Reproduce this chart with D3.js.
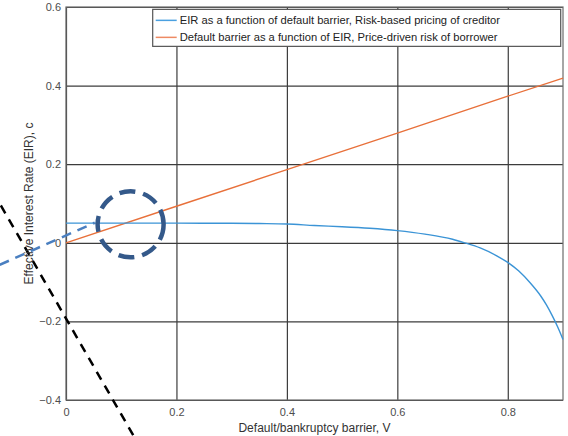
<!DOCTYPE html>
<html>
<head>
<meta charset="utf-8">
<script src="https://cdn.jsdelivr.net/npm/d3@7"></script>
<style>
  body { margin: 0; background: #fff; }
  svg { display: block; font-family: "Liberation Sans", Arial, sans-serif; }
  .tick text { fill: #4d4d4d; font-size: 11px; }
</style>
</head>
<body>
<script>
(function () {
  'use strict';

  // blue curve: EIR as a function of default barrier
  const eirV = [0, 0.1, 0.2, 0.3, 0.35, 0.4, 0.45, 0.5, 0.55, 0.6, 0.65, 0.7, 0.722, 0.75, 0.78, 0.8, 0.82, 0.84, 0.86, 0.87, 0.88, 0.89, 0.9];
  const eirC = [0.05, 0.05, 0.05, 0.0497, 0.049, 0.048, 0.044, 0.041, 0.037, 0.031, 0.022, 0.009, 0, -0.013, -0.033, -0.05, -0.072, -0.101, -0.136, -0.158, -0.184, -0.213, -0.246];

  // orange line: default barrier as a function of EIR
  const barV = [0, 0.2, 0.4, 0.6, 0.8, 0.9];
  const barC = [0, 0.093, 0.186, 0.279, 0.373, 0.419];

  const xTicks = [0, 0.2, 0.4, 0.6, 0.8];
  const yTicks = [-0.4, -0.2, 0, 0.2, 0.4, 0.6];

  const legendLabels = [
    'EIR as a function of default barrier, Risk-based pricing of creditor',
    'Default barrier as a function of EIR, Price-driven risk of borrower'
  ];

  // hand-drawn annotations, in data units
  const blackDash = [[-0.118, 0.095], [0.122, -0.49]];
  const blueDash = [[-0.12, -0.056], [0.052, 0.051]];
  const circleCenter = [0.117, 0.047];

  const initWidth = 568;
  const initHeight = 436;
  const margin = { left: 66, top: 7, right: 5, bottom: 36 };
  const width = initWidth - margin.left - margin.right;
  const height = initHeight - margin.top - margin.bottom;

  const svgRoot = d3.select('body').append('svg')
    .attr('width', initWidth)
    .attr('height', initHeight);

  const svg = svgRoot.append('g')
    .attr('transform', `translate(${margin.left},${margin.top})`);

  const xScale = d3.scaleLinear().domain([0, 0.9]).range([0, width]);
  const yScale = d3.scaleLinear().domain([-0.4, 0.6]).range([height, 0]);

  const fmt = d => d === 0 ? '0' : d3.format('.1f')(d);

  // grid + tick labels
  const xAxis = svg.append('g')
    .attr('transform', `translate(0,${height})`)
    .call(d3.axisBottom(xScale).tickValues(xTicks).tickFormat(fmt)
      .tickSizeInner(-height).tickSizeOuter(0).tickPadding(8));

  const yAxis = svg.append('g')
    .call(d3.axisLeft(yScale).tickValues(yTicks).tickFormat(fmt)
      .tickSizeInner(-width).tickSizeOuter(0).tickPadding(5));

  [xAxis, yAxis].forEach(ax => {
    ax.select('.domain').remove();
    ax.selectAll('.tick line').attr('stroke', '#3c3c3c').attr('stroke-width', 1.2);
  });

  // box
  svg.append('rect')
    .attr('width', width).attr('height', height)
    .attr('fill', 'none').attr('stroke', '#6b6b6b').attr('stroke-width', 1.2);

  const line = d3.line()
    .x(d => xScale(d[0]))
    .y(d => yScale(d[1]));

  svg.append('path')
    .datum(barV.map((v, i) => [v, barC[i]]))
    .attr('d', line)
    .attr('fill', 'none')
    .attr('stroke', '#e8703a')
    .attr('stroke-width', 1.4);

  svg.append('path')
    .datum(eirV.map((v, i) => [v, eirC[i]]))
    .attr('d', line.curve(d3.curveMonotoneX))
    .attr('fill', 'none')
    .attr('stroke', '#3b94d6')
    .attr('stroke-width', 1.4);
  line.curve(d3.curveLinear);

  // legend
  const leg = svg.append('g')
    .attr('transform', `translate(${xScale(0.157)},${yScale(0.594)})`);
  leg.append('rect')
    .attr('width', 408).attr('height', 37)
    .attr('fill', '#fff').attr('stroke', '#555').attr('stroke-width', 1.2);
  const legColors = ['#4aa0e0', '#ee8a63'];
  legendLabels.forEach((t, i) => {
    const g = leg.append('g').attr('transform', `translate(0,${11 + i * 17})`);
    g.append('line').attr('x1', 3).attr('x2', 24)
      .attr('stroke', legColors[i]).attr('stroke-width', 1.5);
    g.append('text').attr('x', 27).attr('dy', '0.35em')
      .attr('font-size', 11.2).attr('fill', '#222').text(t);
  });

  // annotations (drawn over plot, may leave the axes)
  svg.append('path')
    .datum(blackDash)
    .attr('d', line)
    .attr('stroke', '#000').attr('stroke-width', 2.5)
    .attr('stroke-dasharray', '9,7').attr('fill', 'none');

  svg.append('path')
    .datum(blueDash)
    .attr('d', line)
    .attr('stroke', '#4a7fc0').attr('stroke-width', 2.5)
    .attr('stroke-dasharray', '10,7').attr('fill', 'none');

  svg.append('circle')
    .attr('cx', xScale(circleCenter[0]))
    .attr('cy', yScale(circleCenter[1]))
    .attr('r', 33)
    .attr('fill', 'none')
    .attr('stroke', '#34598a').attr('stroke-width', 4.5)
    .attr('stroke-dasharray', '16,8');

  // axis labels
  svgRoot.append('text')
    .attr('x', margin.left + width / 2).attr('y', 432)
    .attr('text-anchor', 'middle').attr('font-size', 12).attr('fill', '#333')
    .text('Default/bankruptcy barrier, V');

  svgRoot.append('text')
    .attr('transform', `translate(33,${margin.top + height / 2}) rotate(-90)`)
    .attr('text-anchor', 'middle').attr('font-size', 12).attr('fill', '#333')
    .text('Effective Interest Rate (EIR), c');
})();
</script>
</body>
</html>
